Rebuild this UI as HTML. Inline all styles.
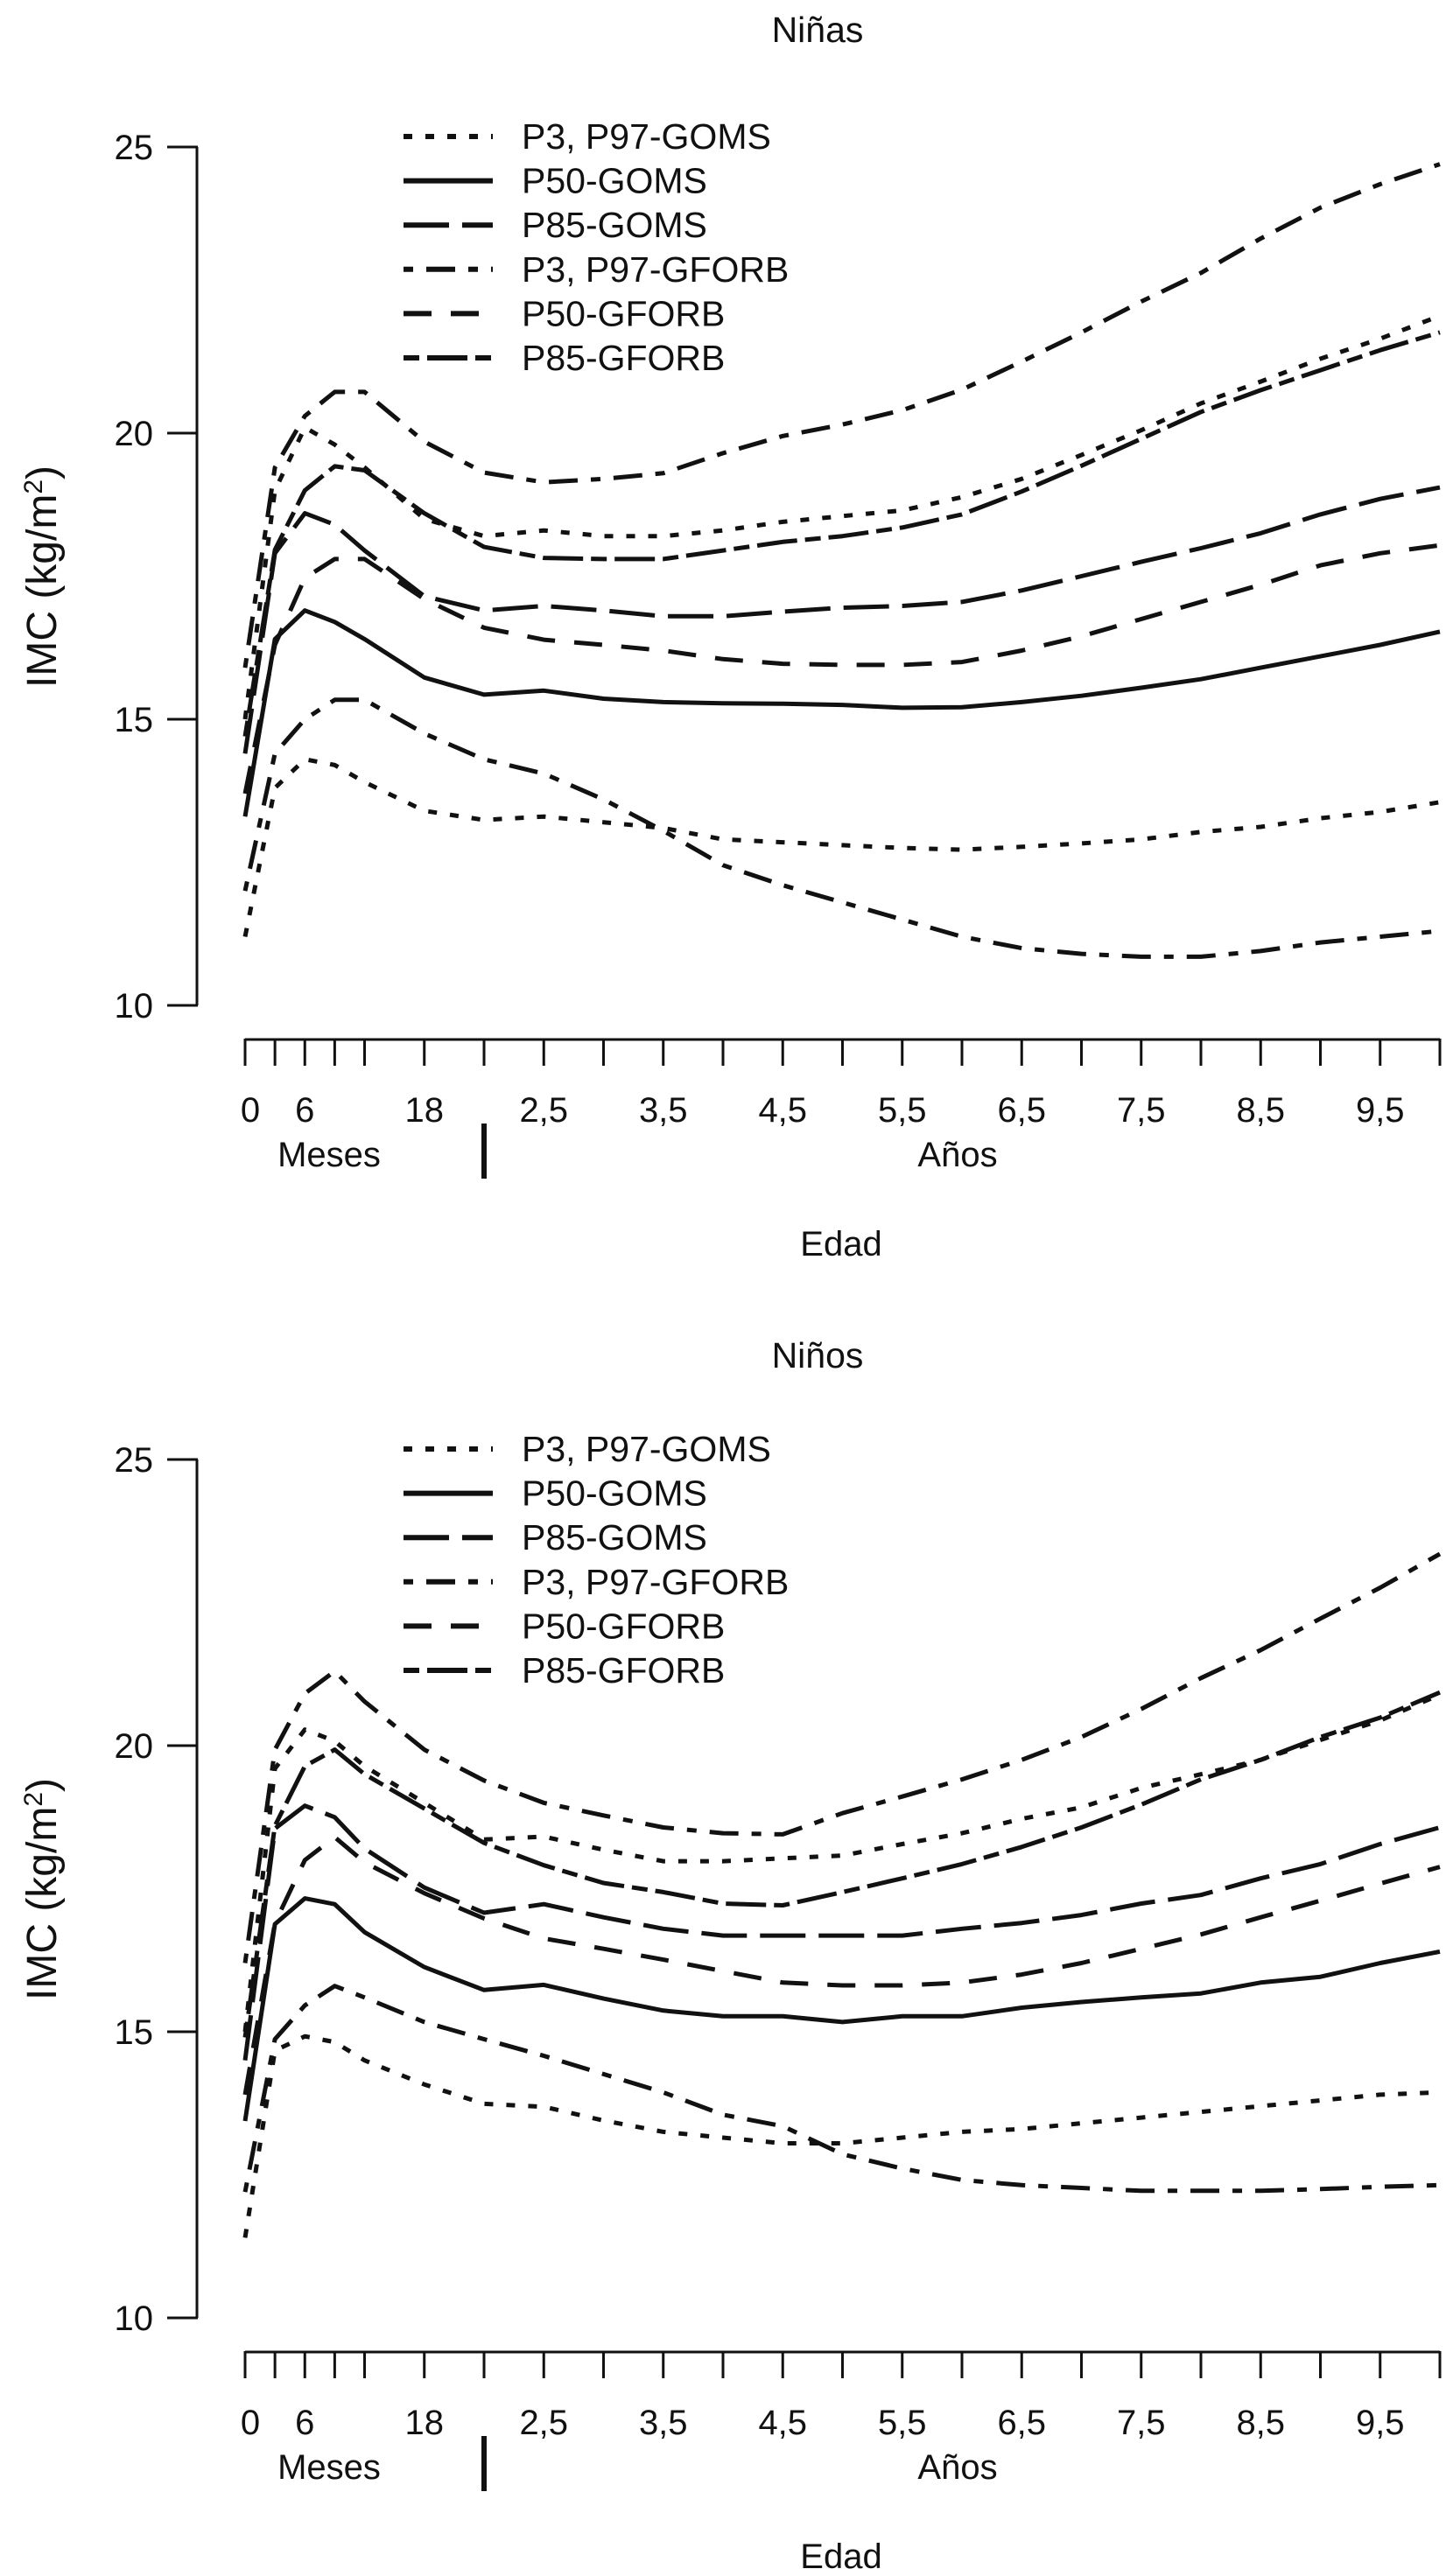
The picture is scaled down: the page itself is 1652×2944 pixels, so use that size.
<!DOCTYPE html>
<html><head><meta charset="utf-8">
<style>
html,body{margin:0;padding:0;background:#fff;}
svg{display:block;}
text{font-family:"Liberation Sans",Arial,sans-serif;fill:#111;}
</style></head>
<body>
<svg id="chart" width="1652" height="2944" viewBox="0 0 1652 2944" xmlns="http://www.w3.org/2000/svg"></svg>
<script>
// ---- data ----
const months = [0,3,6,9,12,18,24,30,36,42,48,54,60,66,72,78,84,90,96,102,108,114,120];
const seriesNames = ["P3-GOMS","P97-GOMS","P50-GOMS","P85-GOMS","P3-GFORB","P97-GFORB","P50-GFORB","P85-GFORB"];
// Niñas
const ninasP3GOMS   = [11.2,13.8,14.3,14.2,13.9,13.4,13.24,13.3,13.2,13.1,12.9,12.85,12.8,12.75,12.72,12.77,12.83,12.9,13.03,13.12,13.27,13.38,13.55];
const ninasP97GOMS  = [15.0,19.0,20.1,19.8,19.4,18.5,18.2,18.3,18.2,18.2,18.3,18.45,18.55,18.65,18.88,19.2,19.62,20.05,20.52,20.9,21.3,21.65,22.05];
const ninasP50GOMS  = [13.3,16.4,16.9,16.7,16.4,15.73,15.43,15.5,15.36,15.3,15.28,15.27,15.25,15.2,15.21,15.3,15.41,15.55,15.7,15.9,16.1,16.3,16.53];
const ninasP85GOMS  = [14.4,17.9,18.6,18.4,17.95,17.15,16.9,16.98,16.9,16.8,16.8,16.88,16.95,16.98,17.05,17.25,17.5,17.75,17.99,18.25,18.58,18.85,19.05];
const ninasP3GFORB  = [12.0,14.4,15.0,15.34,15.34,14.75,14.3,14.05,13.6,13.05,12.45,12.1,11.8,11.5,11.2,11.0,10.9,10.85,10.85,10.95,11.1,11.2,11.3];
const ninasP97GFORB = [15.9,19.4,20.3,20.72,20.72,19.85,19.31,19.14,19.2,19.3,19.65,19.95,20.15,20.4,20.76,21.25,21.76,22.3,22.8,23.4,23.94,24.35,24.7];
const ninasP50GFORB = [13.7,16.3,17.47,17.8,17.8,17.1,16.6,16.39,16.3,16.2,16.05,15.97,15.95,15.95,16.0,16.2,16.45,16.75,17.05,17.35,17.69,17.9,18.04];
const ninasP85GFORB = [14.7,17.96,19.0,19.42,19.35,18.6,18.01,17.82,17.8,17.8,17.95,18.1,18.2,18.35,18.58,18.98,19.43,19.9,20.37,20.75,21.1,21.45,21.76];
// Niños
const ninosP3GOMS   = [11.4,14.67,14.92,14.82,14.5,14.08,13.74,13.69,13.45,13.25,13.15,13.05,13.05,13.15,13.25,13.3,13.4,13.5,13.6,13.7,13.8,13.9,13.94];
const ninosP97GOMS  = [15.0,19.6,20.28,20.08,19.64,19.0,18.36,18.41,18.18,17.98,17.98,18.03,18.08,18.28,18.47,18.72,18.92,19.26,19.5,19.75,20.1,20.44,20.89];
const ninosP50GOMS  = [13.44,16.88,17.33,17.23,16.74,16.13,15.73,15.82,15.58,15.37,15.27,15.27,15.17,15.27,15.27,15.42,15.52,15.6,15.67,15.86,15.96,16.2,16.4];
const ninosP85GOMS  = [14.5,18.55,18.95,18.75,18.2,17.52,17.08,17.23,17.0,16.8,16.68,16.68,16.68,16.68,16.8,16.9,17.04,17.24,17.39,17.68,17.93,18.28,18.57];
const ninosP3GFORB  = [12.2,14.87,15.46,15.8,15.6,15.17,14.87,14.58,14.26,13.94,13.55,13.35,12.86,12.61,12.41,12.32,12.27,12.22,12.22,12.22,12.25,12.29,12.32];
const ninosP97GFORB = [16.2,19.93,20.91,21.3,20.77,19.93,19.39,19.0,18.78,18.57,18.47,18.45,18.82,19.11,19.41,19.75,20.15,20.64,21.18,21.67,22.22,22.76,23.35];
const ninosP50GFORB = [13.9,16.9,18.0,18.4,17.96,17.42,16.98,16.63,16.45,16.26,16.06,15.86,15.81,15.81,15.86,16.0,16.2,16.45,16.7,17.0,17.29,17.59,17.88];
const ninosP85GFORB = [14.9,18.6,19.64,19.93,19.5,18.9,18.3,17.91,17.6,17.44,17.24,17.21,17.44,17.68,17.93,18.23,18.57,18.97,19.41,19.75,20.15,20.49,20.93];
const xTickMonths = [0,3,6,9,12,18,24,30,36,42,48,54,60,66,72,78,84,90,96,102,108,114,120];
const xLabelMonths = [0,6,18,30,42,54,66,78,90,102,114];
const xLabelText = ["0","6","18","2,5","3,5","4,5","5,5","6,5","7,5","8,5","9,5"];
const yTicks = [10,15,20,25];
const legendLabels = ["P3, P97-GOMS","P50-GOMS","P85-GOMS","P3, P97-GFORB","P50-GFORB","P85-GFORB"];

// ---- styles ----
const DASH = {
  dot: "10 15", solid: "", long: "52 15", dotdash: "11 15 33 15", med: "32 22", shortlong: "18 9 46 9"
};
const NS = "http://www.w3.org/2000/svg";
const svg = document.getElementById("chart");
function mk(tag, attrs, parent){ const e=document.createElementNS(NS,tag); for(const k in attrs) e.setAttribute(k,attrs[k]); (parent||svg).appendChild(e); return e; }

function xScale(m){ return 280 + m*11.375; }
function yScaleFor(off){ return v => off + 1149 - (v-10)*65.4; }

function drawChart(off, title, titleOff, data, tag){
  const g = mk("g",{});
  
  
  const y = yScaleFor(off);
  const t = mk("text",{x:934,y:off+titleOff+48,"text-anchor":"middle","font-size":41},g);
  t.textContent = title;
  
  
  // y axis
  const ya = mk("path",{d:`M225 ${y(25)} V ${y(10)}`,stroke:"#111","stroke-width":3,fill:"none"},g);
  
  
  yTicks.forEach(v=>{
    const tk = mk("line",{x1:191,x2:226,y1:y(v),y2:y(v),stroke:"#111","stroke-width":3},g);
    
    
    const tl = mk("text",{x:175,y:y(v)+14,"text-anchor":"end","font-size":40},g);
    tl.textContent = String(v);
    
    
  });
  const yl = mk("text",{x:0,y:0,"text-anchor":"middle","font-size":48,transform:`translate(64 ${off+659}) rotate(-90)`},g);
  yl.innerHTML = 'IMC (kg/m<tspan baseline-shift="super" font-size="30">2</tspan>)';
  
  
  // x axis
  const xa = mk("path",{d:`M${xScale(0)} ${off+1188} H ${xScale(120)}`,stroke:"#111","stroke-width":3,fill:"none"},g);
  
  
  xTickMonths.forEach(m=>{
    const tk = mk("line",{x1:xScale(m),x2:xScale(m),y1:off+1187,y2:off+1218,stroke:"#111","stroke-width":3},g);
    
    
  });
  xLabelMonths.forEach((m,i)=>{
    const tl = mk("text",{x:xScale(m)+(m===0?6:0),y:off+1282,"text-anchor":"middle","font-size":40},g);
    tl.textContent = xLabelText[i];
    
    
  });
  const me = mk("text",{x:376,y:off+1333,"text-anchor":"middle","font-size":40},g);
  me.textContent = "Meses";
  
  
  const an = mk("text",{x:1094,y:off+1333,"text-anchor":"middle","font-size":40},g);
  an.textContent = "Años";
  
  
  const sep = mk("rect",{x:xScale(24)-3,y:off+1284,width:6,height:63,fill:"#111"},g);
  
  
  const ed = mk("text",{x:961,y:off+1435,"text-anchor":"middle","font-size":40},g);
  ed.textContent = "Edad";
  
  
  // legend
  const legDash = [DASH.dot, DASH.solid, DASH.long, DASH.dotdash, DASH.med, DASH.shortlong];
  legendLabels.forEach((lab,i)=>{
    const ly = off + 156 + i*50.6;
    const ll = mk("line",{x1:461,x2:563,y1:ly,y2:ly,stroke:"#111","stroke-width":6,"stroke-dasharray":legDash[i]},g);
    
    
    const lt = mk("text",{x:596,y:ly+14,"font-size":41},g);
    lt.textContent = lab;
    
    
  });
  // series
  const styles = [DASH.dot, DASH.dot, DASH.solid, DASH.long, DASH.dotdash, DASH.dotdash, DASH.med, DASH.shortlong];
  data.forEach((vals,si)=>{
    const d = vals.map((v,i)=>(i?"L":"M")+xScale(months[i]).toFixed(1)+" "+y(v).toFixed(1)).join(" ");
    const p = mk("path",{d:d,fill:"none",stroke:"#111","stroke-width":5,"stroke-dasharray":styles[si],"stroke-linejoin":"round"},g);
    
    
  });
}

drawChart(0, "Niñas", 0, [ninasP3GOMS,ninasP97GOMS,ninasP50GOMS,ninasP85GOMS,ninasP3GFORB,ninasP97GFORB,ninasP50GFORB,ninasP85GFORB], "ninas");
drawChart(1500, "Niños", 15, [ninosP3GOMS,ninosP97GOMS,ninosP50GOMS,ninosP85GOMS,ninosP3GFORB,ninosP97GFORB,ninosP50GFORB,ninosP85GFORB], "ninos");
</script>
</body></html>
